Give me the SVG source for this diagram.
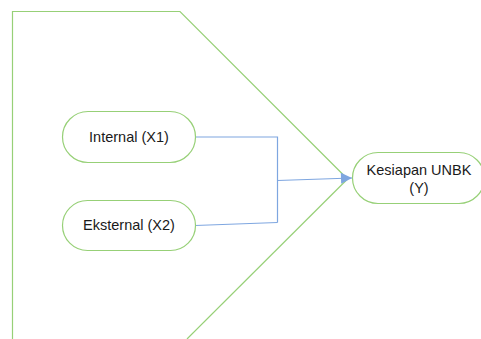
<svg xmlns="http://www.w3.org/2000/svg" width="481" height="339" viewBox="0 0 481 339">
  <defs>
    <style>
      .node { fill: #ffffff; stroke: #97d077; stroke-width: 1.2; }
      .label { font-family: "Liberation Sans", Arial, sans-serif; font-size: 14.5px; fill: #1a1a1a; text-anchor: middle; }
      .frame { fill: none; stroke: #97d077; stroke-width: 1.2; }
      .link { fill: none; stroke: #7ea6e0; stroke-width: 1.2; }
    </style>
    <marker id="arrow" viewBox="0 0 10 10" refX="10" refY="5" markerWidth="15" markerHeight="11" markerUnits="userSpaceOnUse" orient="auto">
      <path d="M0,0 L10,5 L0,10 Z" fill="#7ea6e0"/>
    </marker>
  </defs>

  <!-- outer boundary lines converging on the outcome node -->
  <g id="frame">
    <polyline class="frame" points="12.5,339 12.5,11.5 180,11.5 347.5,179"/>
    <line class="frame" x1="187" y1="339" x2="347.5" y2="179"/>
  </g>

  <!-- connectors -->
  <g id="connectors">
    <polyline class="link" points="195,137 277.5,137 277.5,222.5"/>
    <polyline class="link" points="195,225.5 277.5,222.5"/>
    <line class="link" x1="277.5" y1="180.5" x2="352" y2="178" marker-end="url(#arrow)"/>
  </g>

  <g id="internal">
    <rect class="node" x="62.5" y="111.5" width="133" height="51" rx="25.5"/>
    <text class="label" x="129" y="142">Internal (X1)</text>
  </g>

  <g id="eksternal">
    <rect class="node" x="62.5" y="200.5" width="133" height="50" rx="25"/>
    <text class="label" x="129" y="230">Eksternal (X2)</text>
  </g>

  <g id="kesiapan">
    <rect class="node" x="352.5" y="152.5" width="132" height="51" rx="25.5"/>
    <text class="label" x="419" y="175">Kesiapan UNBK</text>
    <text class="label" x="419" y="193">(Y)</text>
  </g>
</svg>
